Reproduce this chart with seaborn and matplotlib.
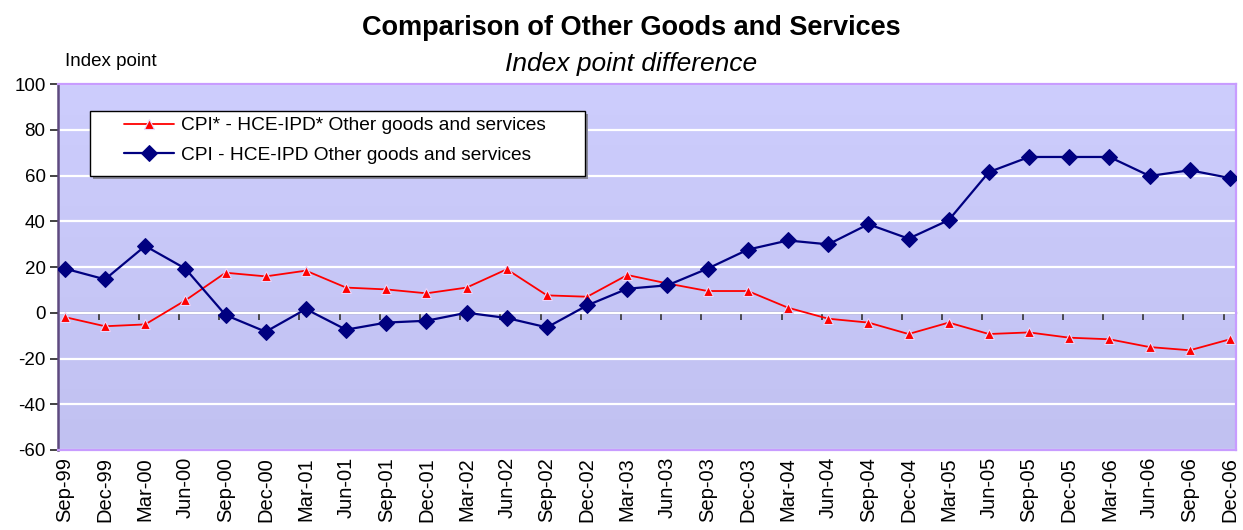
import numpy as np
import pandas as pd
import matplotlib
matplotlib.use("Agg")
import matplotlib.pyplot as plt
from matplotlib.colors import LinearSegmentedColormap
from matplotlib.patches import Rectangle
import seaborn as sns

quarters = ["Sep-99", "Dec-99", "Mar-00", "Jun-00", "Sep-00", "Dec-00", "Mar-01", "Jun-01",
            "Sep-01", "Dec-01", "Mar-02", "Jun-02", "Sep-02", "Dec-02", "Mar-03", "Jun-03",
            "Sep-03", "Dec-03", "Mar-04", "Jun-04", "Sep-04", "Dec-04", "Mar-05", "Jun-05",
            "Sep-05", "Dec-05", "Mar-06", "Jun-06", "Sep-06", "Dec-06"]

cpi_star_diff = [-1.9, -5.9, -5.1, 5.4, 17.5, 15.9, 18.4, 11.0, 10.2, 8.5, 11.0, 19.0, 7.6, 7.0,
                 16.5, 12.8, 9.5, 9.5, 2.2, -2.6, -4.3, -9.3, -4.3, -9.3, -8.6, -10.9, -11.6,
                 -15.0, -16.4, -11.6]
cpi_diff = [19.3, 14.6, 29.2, 19.3, -1.0, -8.3, 1.6, -7.4, -4.3, -3.5, 0.0, -2.3, -6.4, 3.2,
            10.5, 12.0, 19.3, 27.6, 31.6, 29.9, 38.7, 32.4, 40.5, 61.5, 68.1, 68.1, 68.1,
            59.8, 62.3, 58.9]

label_star = "CPI* - HCE-IPD* Other goods and services"
label_plain = "CPI - HCE-IPD Other goods and services"

pos = np.arange(len(quarters))
df_star = pd.DataFrame({"pos": pos, "value": cpi_star_diff})
df_plain = pd.DataFrame({"pos": pos, "value": cpi_diff})

sns.set_style("white")
plt.rcParams["font.family"] = ["Liberation Sans", "DejaVu Sans"]
plt.rcParams["axes.unicode_minus"] = False
plt.rcParams["text.color"] = "black"
plt.rcParams["xtick.color"] = "black"
plt.rcParams["ytick.color"] = "black"

fig = plt.figure(figsize=(12.43, 5.30), dpi=100)
ax = fig.add_axes([58 / 1243, 1 - 450 / 530, 1178 / 1243, 366 / 530])

# soft vertical gradient behind the plot area
grad_cmap = LinearSegmentedColormap.from_list("bg", ["#c1c1f1", "#cdcdfd"])
ax.imshow(np.linspace(0, 1, 256).reshape(-1, 1), cmap=grad_cmap, origin="lower",
          extent=[0, 1, 0, 1], transform=ax.transAxes, aspect="auto", zorder=0)

ax.set_xlim(-0.17, 29.15)
ax.set_ylim(-60, 100)

# white horizontal gridlines
ax.set_yticks(np.arange(-60, 101, 20))
ax.yaxis.grid(True, color="white", linewidth=1.6, zorder=1)
ax.set_axisbelow(True)

sns.lineplot(data=df_star, x="pos", y="value", ax=ax, color="#ff0000", linewidth=1.3,
             marker="^", markersize=7.5, markerfacecolor="#ff0000",
             markeredgecolor="#e8d8ff", markeredgewidth=0.8, label=label_star,
             sort=False, zorder=4)
sns.lineplot(data=df_plain, x="pos", y="value", ax=ax, color="#000080", linewidth=1.6,
             marker="D", markersize=8, markerfacecolor="#000080",
             markeredgecolor="#000080", label=label_plain, sort=False, zorder=5)

# plot-area border
for side in ["top", "right", "bottom"]:
    ax.spines[side].set_color("#c89cff")
    ax.spines[side].set_linewidth(1.6)
ax.spines["left"].set_color("#5e4a80")
ax.spines["left"].set_linewidth(1.8)

ax.tick_params(axis="y", direction="out", length=6, width=1.2, color="#222222",
               labelsize=13.5, pad=3, labelcolor="black", left=True)
ax.set_ylabel("")
ax.set_xlabel("")

# category labels along the bottom edge
ax.set_xticks(pos)
ax.set_xticklabels(quarters, rotation=90, fontsize=14.5)
ax.tick_params(axis="x", length=0, pad=5, labelcolor="black")

# value axis line at zero with its tick marks
zero_axis = ax.secondary_xaxis(0, transform=ax.transData)
zero_axis.spines["bottom"].set_color("#5a5a5a")
zero_axis.spines["bottom"].set_linewidth(1.6)
zero_axis.set_xticks(np.arange(1, len(quarters)) - 0.16)
zero_axis.set_xticklabels([])
zero_axis.tick_params(axis="x", direction="out", length=5, width=1.2, color="#333333")

# legend box with a drop shadow
lx0, ly0 = (90 - 58) / 1178, (450 - 176) / 366
lw, lh = 495 / 1178, 65 / 366
ax.add_patch(Rectangle((lx0 + 3 / 1178, ly0 - 3 / 366), lw, lh, transform=ax.transAxes,
                       facecolor="#8a8a9a", edgecolor="none", zorder=6))
ax.add_patch(Rectangle((lx0, ly0), lw, lh, transform=ax.transAxes,
                       facecolor="white", edgecolor="black", linewidth=1.0, zorder=7))
leg = ax.legend(loc="upper left", bbox_to_anchor=((124 - 58) / 1178, (450 - 117) / 366),
                frameon=False, fontsize=13.8, handlelength=2.6, handletextpad=0.35,
                labelspacing=0.62, borderpad=0.0, borderaxespad=0.0)
leg.set_zorder(8)

fig.text(631 / 1243, 1 - 28 / 530, "Comparison of Other Goods and Services",
         ha="center", va="center", fontsize=19.5, fontweight="bold")
fig.text(631 / 1243, 1 - 64 / 530, "Index point difference",
         ha="center", va="center", fontsize=19, fontstyle="italic")
fig.text(65 / 1243, 1 - 62 / 530, "Index point", ha="left", va="center", fontsize=13.5)

fig.savefig("out.png", dpi=100, facecolor="white")
